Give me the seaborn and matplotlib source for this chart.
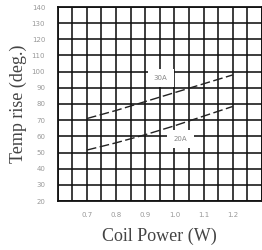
import seaborn as sns
import matplotlib.pyplot as plt
import numpy as np
import pandas as pd

# Coil power (W) vs temperature rise (deg.)
power = [0.7, 0.8, 0.9, 1.0, 1.1, 1.2]
rise_30a = [71, 76, 81.5, 87, 92.5, 98]
rise_20a = [51.5, 56, 61, 66.5, 72.5, 78.5]
series_names = ['30A', '20A']
label_pos = [(0.953, 96), (1.021, 58.5)]

x_ticks = [0.7, 0.8, 0.9, 1.0, 1.1, 1.2]
y_ticks = list(range(20, 150, 10))

df = pd.concat([
    pd.DataFrame({'power': power, 'rise': rise_30a, 'series': series_names[0]}),
    pd.DataFrame({'power': power, 'rise': rise_20a, 'series': series_names[1]}),
])

sns.set_style('white')
plt.rcParams['font.family'] = ['DejaVu Sans']

fig = plt.figure(figsize=(2.62, 2.5), dpi=100)
ax = fig.add_axes([0.22, 0.196, 0.78, 0.776])

sns.lineplot(data=df, x='power', y='rise', units='series', estimator=None,
             color='#222222', linewidth=1.0, dashes=False, ax=ax,
             legend=False)
for line in ax.get_lines():
    line.set_linestyle((0, (7, 2.5)))

ax.set_xlim(0.6, 1.3)
ax.set_ylim(20, 140)
ax.set_xticks(x_ticks)
ax.set_xticks(np.arange(0.6, 1.31, 0.05), minor=True)
ax.set_yticks(y_ticks)
ax.set_xticklabels([f'{v:.1f}' for v in x_ticks])
ax.grid(which='both', color='#111111', linewidth=1.15)
ax.set_axisbelow(True)
ax.tick_params(axis='both', which='both', length=0, labelsize=5,
               labelcolor='#999999')
ax.tick_params(axis='y', pad=9)
ax.tick_params(axis='x', pad=8)
for s in ax.spines.values():
    s.set_color('#111111')
    s.set_linewidth(1.3)

for name, (tx, ty) in zip(series_names, label_pos):
    ax.text(tx, ty, name, fontsize=5, color='#888888', ha='center',
            va='center', zorder=5,
            bbox=dict(boxstyle='square,pad=0.9', fc='white', ec='none'))

ax.set_xlabel('Coil Power (W)', family='Liberation Serif', fontsize=13,
              color='#444444', labelpad=7)
ax.set_ylabel('Temp rise (deg.)', family='Liberation Serif', fontsize=13,
              color='#444444', labelpad=3)

fig.savefig('out.png', dpi=100)
